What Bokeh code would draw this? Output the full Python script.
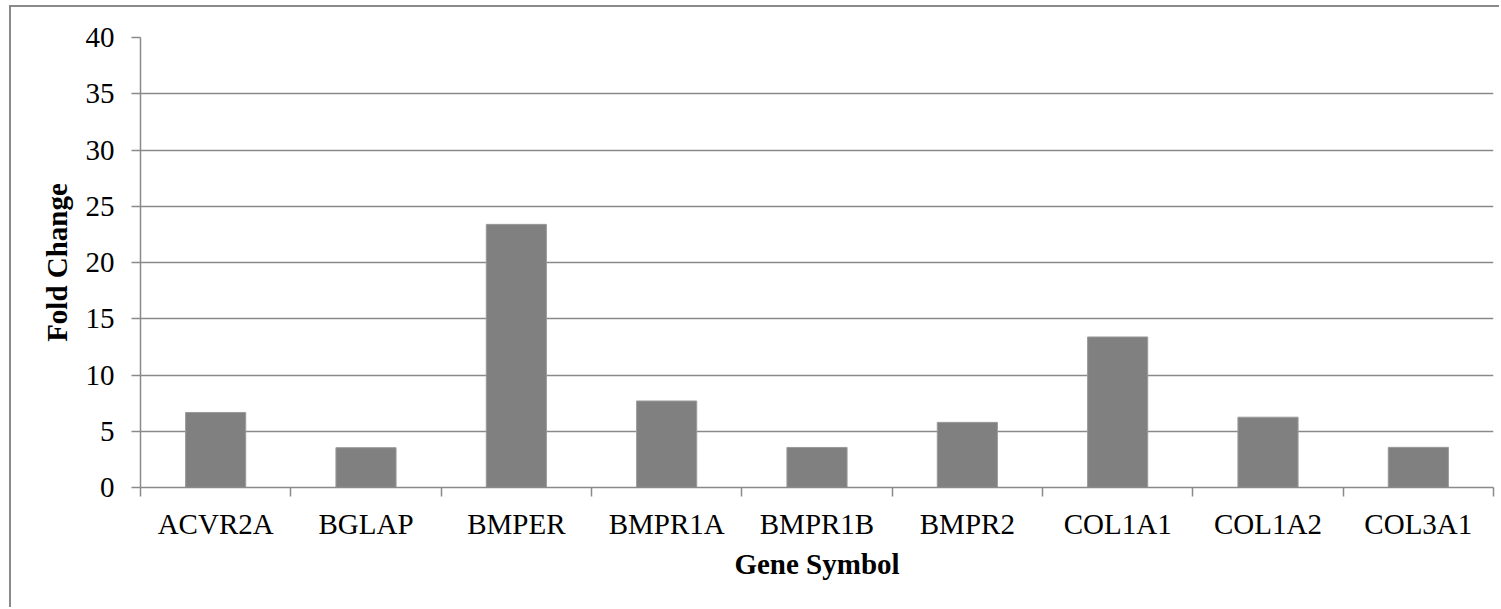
from bokeh.plotting import figure
from bokeh.models import FixedTicker, Range1d, ColumnDataSource
from bokeh.embed import file_html
from bokeh.resources import INLINE

# Fold change per gene
genes = ["ACVR2A", "BGLAP", "BMPER", "BMPR1A", "BMPR1B", "BMPR2", "COL1A1", "COL1A2", "COL3A1"]
fold_change = [6.67, 3.54, 23.39, 7.69, 3.56, 5.79, 13.38, 6.25, 3.57]
y_ticks = [0, 5, 10, 15, 20, 25, 30, 35, 40]

FONT = "Liberation Serif"
GRID = "#8a8a8a"
SIZE = "29px"

centers = [i + 0.5 for i in range(len(genes))]
src = ColumnDataSource(dict(x=centers, top=fold_change, gene=genes))

p = figure(
    width=1490, height=602,
    output_backend="svg", toolbar_location=None,
    x_range=Range1d(0, len(genes)), y_range=Range1d(0, 40),
    min_border_left=129, min_border_right=8,
    min_border_top=30, min_border_bottom=122,
)
# chart border on the left and top edges of the page element
p.styles = {
    "border-left": "2px solid #8a8a8a",
    "border-top": "2px solid #8a8a8a",
    "margin-left": "9px",
    "margin-top": "5px",
}
p.outline_line_color = None
p.background_fill_color = "white"
p.border_fill_color = "white"

p.vbar(x="x", top="top", width=0.4, source=src,
       fill_color="#808080", line_color="#9a9a9a", line_width=1)

# x axis: labels at bar centres, tick marks between categories
xa = p.xaxis[0]
xa.ticker = FixedTicker(ticks=centers, minor_ticks=list(range(len(genes) + 1)))
xa.major_label_overrides = {c: g for c, g in zip(centers, genes)}
xa.major_tick_line_color = None
xa.major_tick_out = 0
xa.major_tick_in = 0
xa.minor_tick_line_color = GRID
xa.minor_tick_line_width = 1.5
xa.minor_tick_out = 9
xa.minor_tick_in = 0
xa.axis_line_color = GRID
xa.axis_line_width = 1.5
xa.major_label_text_font = FONT
xa.major_label_text_font_size = SIZE
xa.major_label_text_color = "black"
xa.major_label_standoff = 11
xa.axis_label = "Gene Symbol"
xa.axis_label_text_font = FONT
xa.axis_label_text_font_size = SIZE
xa.axis_label_text_font_style = "bold"
xa.axis_label_text_color = "black"
xa.axis_label_standoff = 5

# y axis
ya = p.yaxis[0]
ya.ticker = FixedTicker(ticks=y_ticks, minor_ticks=[])
ya.major_tick_line_color = GRID
ya.major_tick_line_width = 1.5
ya.major_tick_out = 9
ya.major_tick_in = 0
ya.minor_tick_line_color = None
ya.axis_line_color = GRID
ya.axis_line_width = 1.5
ya.major_label_text_font = FONT
ya.major_label_text_font_size = SIZE
ya.major_label_text_color = "black"
ya.major_label_standoff = 17
ya.axis_label = "Fold Change"
ya.axis_label_text_font = FONT
ya.axis_label_text_font_size = SIZE
ya.axis_label_text_font_style = "bold"
ya.axis_label_text_color = "black"
ya.axis_label_standoff = 10

p.xgrid.visible = False
p.ygrid.ticker = FixedTicker(ticks=y_ticks)
p.ygrid.grid_line_color = GRID
p.ygrid.grid_line_width = 1.5

open("out.html", "w").write(file_html(p, INLINE))
